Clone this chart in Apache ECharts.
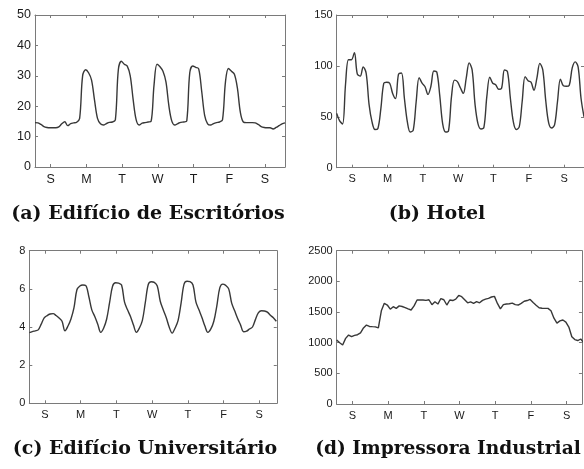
<!DOCTYPE html>
<html>
<head>
<meta charset="utf-8">
<script src="https://cdn.jsdelivr.net/npm/echarts@6/dist/echarts.min.js"></script>
<style>
html,body{margin:0;padding:0;background:#fff;}
#c{width:584px;height:469px;}
</style>
</head>
<body>
<div id="c"></div>
<script>
// ---- data (values read every 2 hours across the week) ----
const dayLabels = ['S', 'M', 'T', 'W', 'T', 'F', 'S'];
const dayTickHours = [10.5, 34.5, 58.5, 82.5, 106.5, 130.5, 154.5];
const stepHours = 2;

const titles = ['(a) Edifício de Escritórios', '(b) Hotel', '(c) Edifício Universitário', '(d) Impressora Industrial'];

const officeLoad = [14.6,14.5,14.0,13.3,13.0,12.9,12.9,12.9,13.2,14.2,14.9,13.6,14.3,14.5,14.7,16.0,30.0,32.0,31.0,28.6,22.0,16.0,14.2,13.8,14.3,14.7,14.8,15.5,32.0,34.8,33.8,33.2,30.0,22.0,15.5,13.8,14.4,14.6,14.8,15.0,27.0,33.8,33.0,31.5,28.0,20.0,15.0,13.8,14.3,14.7,14.8,15.2,31.0,33.2,32.8,32.3,25.0,17.0,14.2,13.8,14.3,14.6,14.8,15.5,28.0,32.4,31.5,30.5,26.0,18.0,14.8,14.6,14.6,14.6,14.5,14.0,13.3,13.0,12.9,12.9,12.5,13.0,13.6,14.2,14.5];
const hotelLoad = [53.4,46,43,82,106,106,113,92,90,99,93,62,45,37.5,38.5,58,83,84,83,73,68,92,93,68,45,35,37,65,88.5,83,79.5,72,80,95,94,71,43,35,36.5,70,86,84.5,78.5,73,88,103,96,62,43,38,39.5,70,89,83,81.5,77,78,96,94.3,68,45,37.5,40,65,89.5,85.5,84,76,88,102.5,96,66,44,39,42,65,87,80.5,80,81,98,104,99,68,50];
const universityLoad = [3.70,3.76,3.80,3.85,4.15,4.48,4.60,4.68,4.70,4.60,4.47,4.30,3.80,4.05,4.42,5.00,5.95,6.15,6.20,6.17,5.60,4.90,4.55,4.15,3.72,3.95,4.42,5.30,6.15,6.32,6.30,6.20,5.30,4.90,4.55,4.10,3.72,3.95,4.35,5.30,6.24,6.37,6.34,6.15,5.35,4.90,4.50,4.00,3.68,3.95,4.35,5.25,6.25,6.40,6.38,6.20,5.30,4.90,4.50,4.05,3.72,3.90,4.30,5.10,6.05,6.25,6.18,6.00,5.25,4.85,4.45,4.10,3.75,3.78,3.90,4.00,4.40,4.75,4.85,4.84,4.78,4.62,4.48,4.30];
const printerLoad = [1044,1000,962,1070,1125,1098,1120,1130,1160,1240,1288,1265,1261,1258,1240,1520,1642,1614,1546,1587,1560,1600,1590,1573,1550,1533,1600,1696,1696,1696,1690,1700,1620,1668,1630,1720,1700,1614,1696,1687,1710,1770,1750,1700,1650,1665,1642,1668,1650,1690,1710,1723,1745,1755,1640,1550,1620,1630,1635,1645,1620,1614,1640,1675,1687,1705,1655,1610,1570,1562,1560,1560,1520,1400,1320,1355,1370,1335,1255,1098,1050,1035,1060,1000];

const yMax = [50, 150, 8, 2500];
const yStep = [10, 50, 2, 500];
const seriesData = [officeLoad, hotelLoad, universityLoad, printerLoad];

// ---- layout ----
const pxPerHour = 250 / 168;
const grids = [
  {left: 35, top: 15, hMax: 168, height: 152, font: 12.5},
  {left: 336.7, top: 15, hMax: 168, height: 152.7, font: 11},
  {left: 29.3, top: 250.7, hMax: 166.3, height: 152.6, font: 11},
  {left: 336.7, top: 250.7, hMax: 164.8, height: 153.3, font: 11}
];
const titlePos = [[148, 205], [437, 205], [145, 440], [448, 440]];
const titleSize = [19, 19, 19, 18.6];

const frame = '#7a7a7a';
const txt = '#1a1a1a';

const option = {
  animation: false,
  backgroundColor: '#fff',
  title: titles.map((t, i) => ({
    text: t, left: titlePos[i][0], top: titlePos[i][1], textAlign: 'center', padding: 0,
    textStyle: {fontFamily: 'DejaVu Serif', fontWeight: 'bold', fontSize: titleSize[i], color: '#111'}
  })),
  grid: grids.map(g => ({left: g.left, top: g.top, width: g.hMax * pxPerHour, height: g.height, containLabel: false})),
  xAxis: [],
  yAxis: [],
  series: []
};

grids.forEach((g, i) => {
  const tickCommon = {show: true, inside: true, length: 3, lineStyle: {color: frame}, customValues: dayTickHours};
  option.xAxis.push({
    type: 'value', gridIndex: i, position: 'bottom', min: 0, max: g.hMax,
    axisLine: {show: true, onZero: false, lineStyle: {color: frame, width: 1}},
    axisTick: tickCommon,
    axisLabel: {show: true, margin: 6, color: txt, fontFamily: 'Liberation Sans', fontSize: g.font,
      customValues: dayTickHours,
      formatter: v => dayLabels[dayTickHours.indexOf(v)] || ''},
    splitLine: {show: false}
  });
  option.xAxis.push({
    type: 'value', gridIndex: i, position: 'top', min: 0, max: g.hMax,
    axisLine: {show: true, onZero: false, lineStyle: {color: frame, width: 1}},
    axisTick: tickCommon,
    axisLabel: {show: false},
    splitLine: {show: false}
  });
  option.yAxis.push({
    type: 'value', gridIndex: i, position: 'left', min: 0, max: yMax[i], interval: yStep[i],
    axisLine: {show: true, onZero: false, lineStyle: {color: frame, width: 1}},
    axisTick: {show: true, inside: true, length: 3, lineStyle: {color: frame}},
    axisLabel: {show: true, margin: 4, color: txt, fontFamily: 'Liberation Sans', fontSize: g.font,
      formatter: v => String(v)},
    splitLine: {show: false}
  });
  option.yAxis.push({
    type: 'value', gridIndex: i, position: 'right', min: 0, max: yMax[i], interval: yStep[i],
    axisLine: {show: true, onZero: false, lineStyle: {color: frame, width: 1}},
    axisTick: {show: true, inside: true, length: 3, lineStyle: {color: frame}},
    axisLabel: {show: false},
    splitLine: {show: false}
  });
  option.series.push({
    type: 'line', xAxisIndex: 2 * i, yAxisIndex: 2 * i, showSymbol: false, clip: true,
    smooth: i === 3 ? false : 0.35,
    lineStyle: {color: '#383838', width: 1.4},
    data: seriesData[i].map((v, k) => [k * stepHours, v])
  });
});

const chart = echarts.init(document.getElementById('c'), null, {renderer: 'canvas'});
chart.setOption(option);
</script>
</body>
</html>
